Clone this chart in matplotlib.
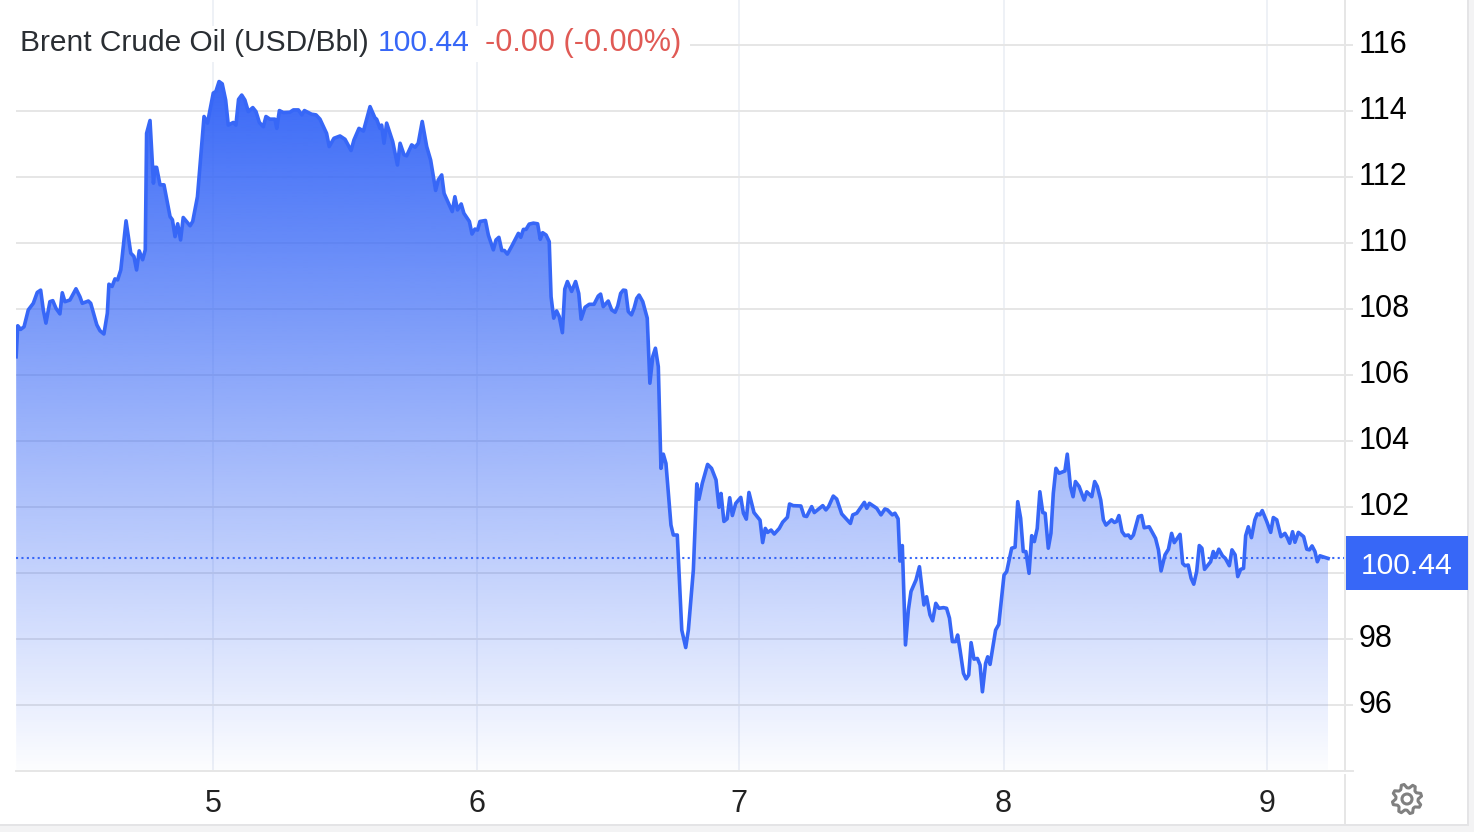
import numpy as np
import matplotlib
matplotlib.use("Agg")
import matplotlib.pyplot as plt
from matplotlib.lines import Line2D
from matplotlib.patches import Polygon, Rectangle, Circle
from matplotlib.transforms import ScaledTranslation

plt.rcParams["font.family"] = ["Liberation Sans", "DejaVu Sans"]

WIDTH, HEIGHT = 1474, 832
BLUE = "#3767f7"
GRID = "#e6e6e6"

# Brent price, intraday samples. Days are days of the month.
days = [
    4.253, 4.259, 4.270, 4.283, 4.299, 4.318, 4.333, 4.346, 4.356, 4.366, 4.381, 4.392, 4.404, 4.419, 4.428, 4.438,
    4.457, 4.480, 4.495, 4.504, 4.527, 4.536, 4.559, 4.571, 4.586, 4.599, 4.605, 4.617, 4.628, 4.638, 4.650, 4.670,
    4.688, 4.700, 4.710, 4.720, 4.733, 4.743, 4.748, 4.761, 4.774, 4.780, 4.786, 4.799, 4.814, 4.837, 4.846, 4.856,
    4.866, 4.877, 4.887, 4.913, 4.923, 4.941, 4.966, 4.979, 5.001, 5.011, 5.023, 5.035, 5.048, 5.058, 5.077, 5.087,
    5.097, 5.109, 5.121, 5.134, 5.151, 5.163, 5.176, 5.191, 5.201, 5.216, 5.235, 5.242, 5.252, 5.267, 5.292, 5.305,
    5.324, 5.337, 5.347, 5.362, 5.374, 5.391, 5.406, 5.431, 5.441, 5.459, 5.482, 5.501, 5.524, 5.535, 5.554, 5.571,
    5.596, 5.615, 5.621, 5.634, 5.640, 5.649, 5.659, 5.682, 5.700, 5.710, 5.725, 5.735, 5.754, 5.767, 5.779, 5.794,
    5.811, 5.826, 5.845, 5.855, 5.868, 5.877, 5.908, 5.918, 5.928, 5.942, 5.952, 5.973, 5.983, 5.994, 6.004, 6.013,
    6.034, 6.045, 6.064, 6.074, 6.085, 6.096, 6.106, 6.117, 6.133, 6.159, 6.168, 6.178, 6.188, 6.200, 6.216, 6.232,
    6.242, 6.251, 6.264, 6.276, 6.283, 6.293, 6.304, 6.314, 6.326, 6.335, 6.345, 6.361, 6.376, 6.388, 6.397, 6.412,
    6.428, 6.446, 6.462, 6.471, 6.481, 6.500, 6.513, 6.526, 6.536, 6.547, 6.557, 6.566, 6.576, 6.588, 6.598, 6.608,
    6.617, 6.631, 6.648, 6.658, 6.669, 6.679, 6.690, 6.700, 6.709, 6.719, 6.738, 6.747, 6.762, 6.779, 6.794, 6.804,
    6.823, 6.836, 6.844, 6.857, 6.877, 6.892, 6.909, 6.920, 6.928, 6.939, 6.951, 6.961, 6.971, 6.984, 7.003, 7.013,
    7.024, 7.034, 7.053, 7.076, 7.086, 7.096, 7.105, 7.118, 7.130, 7.149, 7.162, 7.180, 7.188, 7.202, 7.231, 7.243,
    7.253, 7.272, 7.282, 7.314, 7.326, 7.336, 7.354, 7.367, 7.386, 7.419, 7.428, 7.443, 7.472, 7.481, 7.491, 7.519,
    7.535, 7.550, 7.560, 7.578, 7.588, 7.600, 7.607, 7.616, 7.628, 7.639, 7.649, 7.668, 7.681, 7.698, 7.708, 7.721,
    7.731, 7.743, 7.755, 7.772, 7.784, 7.795, 7.806, 7.818, 7.826, 7.835, 7.848, 7.858, 7.868, 7.877, 7.888, 7.901,
    7.911, 7.920, 7.932, 7.940, 7.949, 7.970, 7.982, 8.002, 8.012, 8.031, 8.044, 8.054, 8.065, 8.075, 8.085, 8.097,
    8.107, 8.117, 8.128, 8.138, 8.149, 8.158, 8.170, 8.180, 8.189, 8.199, 8.211, 8.233, 8.242, 8.254, 8.264, 8.273,
    8.287, 8.306, 8.316, 8.335, 8.346, 8.356, 8.369, 8.379, 8.389, 8.410, 8.421, 8.429, 8.438, 8.450, 8.461, 8.474,
    8.483, 8.493, 8.512, 8.524, 8.534, 8.553, 8.577, 8.588, 8.598, 8.613, 8.626, 8.638, 8.648, 8.670, 8.680, 8.689,
    8.701, 8.712, 8.722, 8.733, 8.743, 8.753, 8.763, 8.786, 8.796, 8.805, 8.817, 8.831, 8.842, 8.857, 8.867, 8.879,
    8.889, 8.900, 8.911, 8.919, 8.929, 8.941, 8.954, 8.963, 8.973, 8.982, 8.999, 9.014, 9.024, 9.037, 9.053, 9.068,
    9.077, 9.086, 9.097, 9.106, 9.119, 9.139, 9.151, 9.161, 9.171, 9.182, 9.191, 9.201, 9.216, 9.232,
]
prices = [
    106.55, 107.49, 107.38, 107.46, 107.97, 108.17, 108.50, 108.57, 107.97, 107.57, 108.22, 108.25, 108.02, 107.85, 108.49, 108.22,
    108.27, 108.61, 108.37, 108.17, 108.24, 108.17, 107.52, 107.34, 107.24, 107.87, 108.75, 108.68, 108.91, 108.88, 109.18, 110.67,
    109.69, 109.59, 109.18, 109.76, 109.49, 109.79, 113.32, 113.71, 111.81, 112.29, 112.29, 111.76, 111.76, 110.80, 110.70, 110.19,
    110.58, 110.09, 110.77, 110.52, 110.65, 111.40, 113.83, 113.63, 114.54, 114.59, 114.89, 114.82, 114.33, 113.57, 113.65, 113.57,
    114.35, 114.48, 114.33, 113.98, 114.10, 113.98, 113.65, 113.52, 113.83, 113.75, 113.75, 113.47, 114.01, 113.95, 113.96, 114.03,
    114.03, 113.88, 114.01, 113.95, 113.90, 113.88, 113.75, 113.32, 112.92, 113.17, 113.24, 113.14, 112.80, 113.12, 113.47, 113.39,
    114.13, 113.78, 113.75, 113.47, 113.57, 113.02, 113.63, 113.07, 112.36, 113.02, 112.67, 112.64, 112.97, 112.90, 113.02, 113.68,
    112.92, 112.51, 111.59, 111.91, 112.06, 111.50, 110.95, 111.40, 111.00, 111.18, 110.90, 110.65, 110.27, 110.42, 110.39, 110.65,
    110.68, 110.24, 109.79, 110.09, 110.17, 109.77, 109.77, 109.66, 109.89, 110.29, 110.17, 110.41, 110.41, 110.57, 110.60, 110.58,
    110.11, 110.31, 110.24, 110.04, 108.37, 107.72, 107.94, 107.77, 107.28, 108.60, 108.83, 108.53, 108.83, 108.47, 107.69, 108.05,
    108.14, 108.14, 108.39, 108.45, 108.07, 108.24, 107.97, 107.90, 108.09, 108.47, 108.57, 108.56, 107.92, 107.82, 108.02, 108.32,
    108.42, 108.22, 107.72, 105.75, 106.56, 106.81, 106.25, 103.17, 103.60, 103.32, 101.45, 101.15, 101.15, 98.27, 97.74, 98.27,
    100.09, 102.70, 102.23, 102.72, 103.29, 103.17, 102.82, 101.99, 102.41, 101.56, 101.64, 102.28, 101.74, 102.11, 102.29, 101.81,
    101.63, 102.44, 101.83, 101.60, 100.92, 101.35, 101.23, 101.30, 101.18, 101.35, 101.54, 101.69, 102.09, 102.04, 102.03, 101.73,
    101.71, 102.01, 101.83, 102.04, 101.91, 102.01, 102.33, 102.24, 101.79, 101.50, 101.76, 101.81, 102.14, 101.96, 102.11, 101.96,
    101.76, 101.94, 101.91, 101.76, 101.81, 101.64, 100.36, 100.83, 97.82, 98.88, 99.44, 99.79, 100.19, 99.03, 99.28, 98.73,
    98.55, 99.08, 98.93, 98.95, 98.93, 98.63, 97.92, 97.92, 98.12, 97.67, 96.96, 96.79, 96.91, 97.89, 97.39, 97.41,
    97.21, 96.40, 97.26, 97.46, 97.23, 98.27, 98.44, 99.94, 100.04, 100.75, 100.78, 102.16, 101.66, 100.65, 100.65, 99.99,
    101.13, 100.95, 101.35, 102.46, 101.83, 101.81, 100.75, 101.20, 102.41, 103.17, 103.02, 103.09, 103.60, 102.62, 102.31, 102.77,
    102.62, 102.21, 102.46, 102.31, 102.77, 102.62, 102.21, 101.61, 101.45, 101.61, 101.53, 101.56, 101.74, 101.25, 101.13, 101.15,
    101.05, 101.15, 101.71, 101.74, 101.37, 101.40, 101.05, 100.70, 100.06, 100.55, 100.72, 101.20, 100.92, 101.17, 100.29, 100.22,
    100.24, 99.84, 99.66, 100.04, 100.83, 100.75, 100.11, 100.34, 100.65, 100.47, 100.72, 100.52, 100.44, 100.22, 100.70, 100.55,
    99.89, 100.11, 100.14, 101.13, 101.40, 101.07, 101.61, 101.79, 101.76, 101.89, 101.56, 101.23, 101.68, 101.61, 101.10, 101.20,
    101.07, 100.90, 101.25, 100.93, 101.23, 101.10, 100.72, 100.70, 100.82, 100.65, 100.34, 100.52, 100.48, 100.44,
]
last_price = 100.44
price_ticks = [96, 98, 100, 102, 104, 106, 108, 110, 112, 114, 116]
price_labels = ["96", "98", "", "102", "104", "106", "108", "110", "112", "114", "116"]
day_ticks = [5, 6.003, 6.997, 8, 9]
day_labels = ["5", "6", "7", "8", "9"]


def fx(px):
    return px / WIDTH


def fy(py):
    return 1 - py / HEIGHT


fig = plt.figure(figsize=(WIDTH / 100, HEIGHT / 100), dpi=100)
ax = fig.add_axes([fx(16), fy(771), fx(1345 - 16), 771 / HEIGHT])

# Grid sits under the translucent area so it still shows through.
ax.set_axisbelow(True)
ax.grid(axis="y", color=GRID, linewidth=1.4)
ax.grid(axis="x", color="#eef1f6", linewidth=1.4)

# Area under the line, fading out towards the bottom of the plot.
fade = np.ones((256, 1, 4))
fade[:, 0, :3] = matplotlib.colors.to_rgb(BLUE)
fade[:, 0, 3] = np.linspace(1, 0.015, 256)
area = ax.imshow(fade, extent=(days[0], days[-1], 94.0, 115.0), aspect="auto", zorder=2, interpolation="bilinear")
outline = np.column_stack([days + [days[-1], days[0]], prices + [94.0, 94.0]])
clip = Polygon(outline, transform=ax.transData, facecolor="none", edgecolor="none")
ax.add_patch(clip)
area.set_clip_path(clip)

ax.plot(days, prices, color=BLUE, linewidth=2.6, solid_joinstyle="round", zorder=3)
ax.axhline(last_price, color=BLUE, linewidth=1.5, linestyle=(0, (1, 1.6)), zorder=3)

ax.set_xlim(4.2524, 9.296)
ax.set_ylim(94, 117.36)

ax.yaxis.tick_right()
ax.set_yticks(price_ticks, price_labels)
ax.set_xticks(day_ticks, day_labels)
ax.tick_params(axis="y", length=6, width=1.4, color=GRID, pad=3.8, labelsize=22, labelcolor="black")
ax.tick_params(axis="x", length=0, pad=13, labelsize=22, labelcolor="#222222")

# Price labels sit slightly above their grid lines.
lift = ScaledTranslation(0, 3 / 100, fig.dpi_scale_trans)
for label in ax.get_yticklabels():
    label.set_transform(label.get_transform() + lift)

for side in ["top", "left", "right"]:
    ax.spines[side].set_visible(False)
ax.spines["bottom"].set_color(GRID)
ax.spines["bottom"].set_linewidth(1.4)

# Legend strip with a white backing that interrupts the grid.
fig.patches.append(Rectangle((fx(0), fy(62)), fx(690), 36 / HEIGHT, transform=fig.transFigure,
                             facecolor="white", edgecolor="none", zorder=5))
title_parts = [
    (20, "Brent Crude Oil (USD/Bbl)", "#2a2e33", 21.5),
    (378, f"{last_price:.2f}", BLUE, 21.7),
    (485, "-0.00 (-0.00%)", "#e05a55", 22),
]
for px, label, colour, size in title_parts:
    fig.text(fx(px), fy(51), label, color=colour, fontsize=size, va="baseline", ha="left", zorder=6)

# Price axis rule, broken where it meets the time axis, and the frame of the widget.
fig.add_artist(Line2D([fx(1345)] * 2, [fy(0), fy(771)], color=GRID, linewidth=1.4))
fig.add_artist(Line2D([fx(1345)] * 2, [fy(775), fy(825)], color=GRID, linewidth=1.4))
ax.plot([1, 1.006], [0, 0], transform=ax.transAxes, color=GRID, linewidth=1.4, clip_on=False)
fig.patches.append(Rectangle((fx(0), fy(832)), 1, 7 / HEIGHT, transform=fig.transFigure,
                             facecolor="#f3f3f4", edgecolor="none"))
fig.add_artist(Line2D([0, fx(1468)], [fy(825)] * 2, color="#e4e4e6", linewidth=1.4))
fig.patches.append(Rectangle((fx(1468), fy(832)), 6 / WIDTH, 1, transform=fig.transFigure,
                             facecolor="#f3f3f4", edgecolor="none"))
fig.add_artist(Line2D([fx(1468)] * 2, [fy(825), 1], color="#e4e4e6", linewidth=1.4))

# Last price tag on the price axis.
fig.patches.append(Rectangle((fx(1346), fy(590)), 122 / WIDTH, 54 / HEIGHT, transform=fig.transFigure,
                             facecolor=BLUE, edgecolor="none", zorder=5))
fig.text(fx(1407), fy(566), f"{last_price:.2f}", color="white", fontsize=21.6, ha="center", va="center", zorder=6)

# Settings gear, drawn as an outline with a round hole.
gear = fig.add_axes([fx(1387), fy(819), 40 / WIDTH, 40 / HEIGHT])
gear.set_xlim(-20, 20)
gear.set_ylim(-20, 20)
gear.axis("off")
teeth = 8
angles = np.linspace(0, 2 * np.pi, teeth * 4, endpoint=False) + np.pi / teeth / 2
radii = np.tile([14.8, 14.8, 11.2, 11.2], teeth)
points = np.column_stack([radii * np.cos(angles), radii * np.sin(angles)])
gear.add_patch(Polygon(points, fill=False, edgecolor="#808080", linewidth=2.2, joinstyle="round"))
gear.add_patch(Circle((0, 0), 5, fill=False, edgecolor="#808080", linewidth=2.2))

fig.savefig("out.png", dpi=100)
